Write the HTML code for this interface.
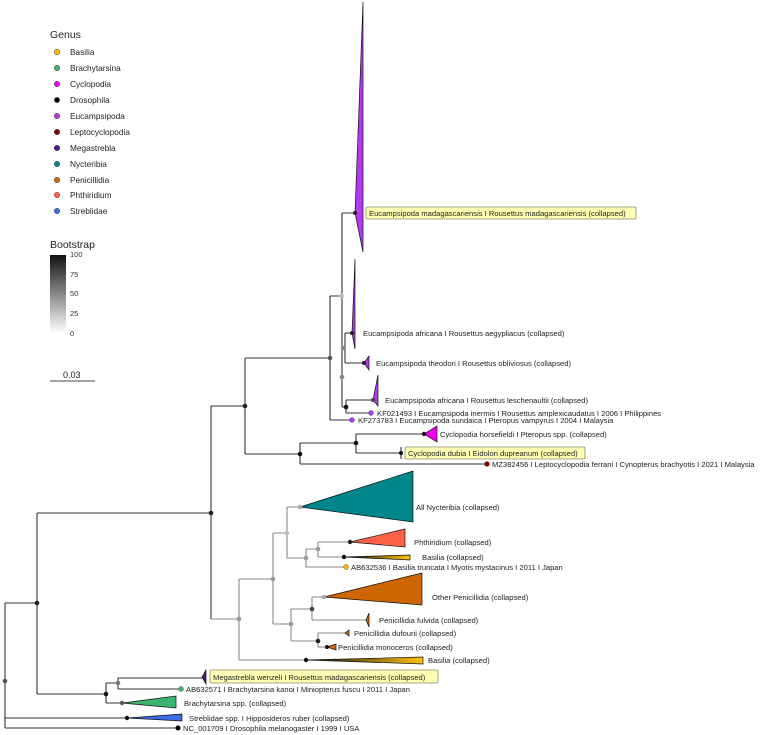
<!DOCTYPE html>
<html><head><meta charset="utf-8"><style>
html,body{margin:0;padding:0;background:#fff;}
svg{display:block;font-family:"Liberation Sans",sans-serif;}
.l{font-size:7.6px;fill:#222;}
.g{font-size:8.3px;fill:#222;}
.e{stroke:#333;stroke-width:1.1;fill:none;}
.f{stroke:#888;stroke-width:1.1;fill:none;}
.t{stroke:#111;stroke-width:0.7;}
.box{fill:#FFFFB3;stroke:#8a8a6a;stroke-width:0.8;}
</style></head><body>
<svg width="763" height="735" viewBox="0 0 763 735">
<defs>
<linearGradient id="bs" x1="0" y1="0" x2="0" y2="1">
<stop offset="0" stop-color="#111"/><stop offset="1" stop-color="#fff"/></linearGradient>
<linearGradient id="ba" x1="0" y1="0" x2="1" y2="0">
<stop offset="0" stop-color="#111"/><stop offset="1" stop-color="#FFC20E"/></linearGradient>
</defs>
<text x="50" y="38" style="font-size:10.5px" fill="#222">Genus</text>
<g class="g">
<circle cx="57" cy="52" r="2.8" fill="#F5B800" stroke="#555" stroke-width="0.5"/><text x="70" y="55">Basilia</text>
<circle cx="57" cy="68" r="2.8" fill="#3CB371" stroke="#555" stroke-width="0.5"/><text x="70" y="71">Brachytarsina</text>
<circle cx="57" cy="84" r="2.8" fill="#EE00EE" stroke="#555" stroke-width="0.5"/><text x="70" y="87">Cyclopodia</text>
<circle cx="57" cy="100" r="2.8" fill="#000"/><text x="70" y="103">Drosophila</text>
<circle cx="57" cy="116" r="2.8" fill="#B23AEE" stroke="#555" stroke-width="0.5"/><text x="70" y="119">Eucampsipoda</text>
<circle cx="57" cy="132" r="2.8" fill="#8B0000" stroke="#555" stroke-width="0.5"/><text x="70" y="135">Leptocyclopodia</text>
<circle cx="57" cy="148" r="2.8" fill="#4B1A8A" stroke="#555" stroke-width="0.5"/><text x="70" y="151">Megastrebla</text>
<circle cx="57" cy="164" r="2.8" fill="#00868B" stroke="#555" stroke-width="0.5"/><text x="70" y="167">Nycteribia</text>
<circle cx="57" cy="180" r="2.8" fill="#CD6600" stroke="#555" stroke-width="0.5"/><text x="70" y="183">Penicillidia</text>
<circle cx="57" cy="195" r="2.8" fill="#FF6347" stroke="#555" stroke-width="0.5"/><text x="70" y="198">Phthiridium</text>
<circle cx="57" cy="211" r="2.8" fill="#4169E1" stroke="#555" stroke-width="0.5"/><text x="70" y="214">Streblidae</text>
</g>
<text x="50" y="248" style="font-size:10.5px" fill="#222">Bootstrap</text>
<rect x="50" y="255" width="16" height="78" fill="url(#bs)"/>
<g style="font-size:7.5px" fill="#333"><text x="70" y="257">100</text><text x="70" y="277">75</text><text x="70" y="296">50</text><text x="70" y="316">25</text><text x="70" y="336">0</text></g>
<text x="63" y="378" style="font-size:9px" fill="#222">0.03</text>
<line x1="50" y1="381" x2="95" y2="381" stroke="#444" stroke-width="1"/>

<g class="e">
<path d="M5,603V728M5,603H37M5,718H127M5,728H178"/>
<path d="M37,513V694M37,513H211M37,694H106"/>
<path d="M211,406V619M211,406H245M245,358V454M245,358H330M245,454H300"/>
<path d="M330,296V420M330,296H342M330,420H352"/>
<path d="M342,213V377M342,213H355M342,377V407M342,348H345M345,333V363M345,333H352M345,363H364M342,407H346M346,400V413M346,400H373M346,413H371"/>
<path d="M300,443V464M300,443H356M356,434V453M356,434H424M356,453H401M300,464H487"/>
<path d="M401,447V459"/>
<path d="M106,683V703M106,683H118M118,678V689M118,678H202M118,689H181M106,703H122"/>
</g>
<g class="f">
<path d="M211,619H239M239,579V660M239,579H273M239,660H306"/>
<path d="M273,533V624M273,533H287M287,507V558M287,507H300M287,558H306M306,549V567M306,549H318M318,542V557M318,542H350M318,557H344M306,567H346"/>
<path d="M273,624H291M291,609V641M291,609H312M312,597V620M312,597H324M312,620H367M291,641H318M318,633V647M318,633H345M318,647H327"/>
</g>

<g class="t">
<polygon points="355,213 363,2 363,252" fill="#B23AEE"/>
<polygon points="352,333 355,259 355,349" fill="#B23AEE"/>
<polygon points="364,363 369,356 369,370" fill="#B23AEE"/>
<polygon points="373,400 378,375 378,406" fill="#B23AEE"/>
<polygon points="424,434 437,426 437,442" fill="#EE00EE"/>
<polygon points="300,507 413,471 413,522" fill="#00868B"/>
<polygon points="350,542 405,529 405,547" fill="#FF6347"/>
<polygon points="344,557 410,555 410,560" fill="url(#ba)"/>
<polygon points="324,597 422,573 422,605" fill="#CD6600"/>
<polygon points="366,620 369,613 369,627" fill="#CD6600"/>
<polygon points="345,633 349,630 349,636" fill="#CD6600"/>
<polygon points="327,647 336,644 336,650" fill="#E06A10"/>
<polygon points="306,660 423,657 423,664" fill="url(#ba)"/>
<polygon points="202,677 206,670 206,684" fill="#4B1A8A"/>
<polygon points="122,703 176,696 176,708" fill="#3CB371"/>
<polygon points="127,718 182,714 182,721" fill="#4169E1"/>
</g>

<g>
<circle cx="5" cy="681" r="2.3" fill="#555"/>
<circle cx="37" cy="603" r="2.3" fill="#222"/>
<circle cx="211" cy="513" r="2.3" fill="#222"/>
<circle cx="245" cy="406" r="2.3" fill="#222"/>
<circle cx="330" cy="358" r="2.3" fill="#555"/>
<circle cx="342" cy="296" r="2.3" fill="#bbb"/>
<circle cx="355" cy="213" r="2" fill="#222"/>
<circle cx="343" cy="348" r="2.3" fill="#888"/>
<circle cx="342" cy="377" r="2.3" fill="#888"/>
<circle cx="352" cy="333" r="2" fill="#222"/>
<circle cx="364" cy="363" r="2" fill="#222"/>
<circle cx="346" cy="407" r="2.3" fill="#111"/>
<circle cx="373" cy="400" r="2" fill="#444"/>
<circle cx="371" cy="413" r="2.5" fill="#B23AEE" stroke="#444" stroke-width="0.4"/>
<circle cx="352" cy="420" r="2.5" fill="#B23AEE" stroke="#444" stroke-width="0.4"/>
<circle cx="300" cy="454" r="2.3" fill="#111"/>
<circle cx="356" cy="443" r="2.3" fill="#111"/>
<circle cx="424" cy="434" r="2.2" fill="#111"/>
<circle cx="401" cy="453" r="2" fill="#111"/>
<circle cx="487" cy="464" r="2.5" fill="#8B0000" stroke="#444" stroke-width="0.4"/>
<circle cx="239" cy="619" r="2.3" fill="#999"/>
<circle cx="273" cy="579" r="2.3" fill="#999"/>
<circle cx="287" cy="533" r="2.3" fill="#bbb"/>
<circle cx="300" cy="507" r="2.3" fill="#aaa"/>
<circle cx="306" cy="558" r="2.3" fill="#999"/>
<circle cx="318" cy="549" r="2.3" fill="#999"/>
<circle cx="350" cy="542" r="2.2" fill="#222"/>
<circle cx="344" cy="557" r="2.2" fill="#111"/>
<circle cx="346" cy="567" r="2.5" fill="#F5B800" stroke="#444" stroke-width="0.4"/>
<circle cx="291" cy="624" r="2.3" fill="#999"/>
<circle cx="312" cy="609" r="2.3" fill="#444"/>
<circle cx="324" cy="597" r="2.3" fill="#aaa"/>
<circle cx="318" cy="641" r="2.3" fill="#222"/>
<circle cx="327" cy="647" r="2" fill="#111"/>
<circle cx="306" cy="660" r="2.2" fill="#111"/>
<circle cx="106" cy="694" r="2.3" fill="#111"/>
<circle cx="118" cy="683" r="2.3" fill="#777"/>
<circle cx="181" cy="689" r="2.5" fill="#3CB371" stroke="#444" stroke-width="0.4"/>
<circle cx="122" cy="703" r="2.2" fill="#555"/>
<circle cx="127" cy="718" r="2.2" fill="#111"/>
<circle cx="178" cy="728" r="2.5" fill="#000"/>
</g>

<rect class="box" x="366" y="207" width="270" height="12" rx="1.5"/>
<text class="l" x="369" y="216">Eucampsipoda madagascariensis I Rousettus madagascariensis (collapsed)</text>
<text class="l" x="363" y="336">Eucampsipoda africana I Rousettus aegypliacus (collapsed)</text>
<text class="l" x="376" y="366">Eucampsipoda theodori I Rousettus obliviosus (collapsed)</text>
<text class="l" x="385" y="403">Eucampsipoda africana I Rousettus leschenaultii (collapsed)</text>
<text class="l" x="377" y="416">KF021493 I Eucampsipoda inermis I Rousettus amplexicaudatus I 2006 I Philippines</text>
<text class="l" x="358" y="423">KF273783 I Eucampsipoda sundaica I Pteropus vampyrus I 2004 I Malaysia</text>
<text class="l" x="440" y="437">Cyclopodia horsefieldi I Pteropus spp. (collapsed)</text>
<rect class="box" x="405" y="447" width="180" height="12" rx="1.5"/>
<text class="l" x="408" y="456">Cyclopodia dubia I Eidolon dupreanum (collapsed)</text>
<text class="l" x="492" y="467">MZ382456 I Leptocyclopodia ferrani I Cynopterus brachyotis I 2021 I Malaysia</text>
<text class="l" x="416" y="510">All Nycteribia (collapsed)</text>
<text class="l" x="414" y="545">Phthiridium (collapsed)</text>
<text class="l" x="422" y="560">Basilia (collapsed)</text>
<text class="l" x="351" y="570">AB632536 I Basilia truncata I Myotis mystacinus I 2011 I Japan</text>
<text class="l" x="432" y="600">Other Penicillidia (collapsed)</text>
<text class="l" x="379" y="623">Penicillidia fulvida (collapsed)</text>
<text class="l" x="354" y="636">Penicillidia dufourii (collapsed)</text>
<text class="l" x="338" y="650">Penicillidia monoceros (collapsed)</text>
<text class="l" x="428" y="663">Basilia (collapsed)</text>
<rect class="box" x="210" y="670" width="228" height="13" rx="1.5"/>
<text class="l" x="213" y="680">Megastrebla wenzeli I Rousettus madagascariensis (collapsed)</text>
<text class="l" x="186" y="692">AB632571 I Brachytarsina kanoi I Miniopterus fuscu I 2011 I Japan</text>
<text class="l" x="184" y="706">Brachytarsina spp. (collapsed)</text>
<text class="l" x="189" y="721">Streblidae spp. I Hipposideros ruber (collapsed)</text>
<text class="l" x="183" y="731">NC_001709 I Drosophila melanogaster I 1999 I USA</text>
</svg>
</body></html>
